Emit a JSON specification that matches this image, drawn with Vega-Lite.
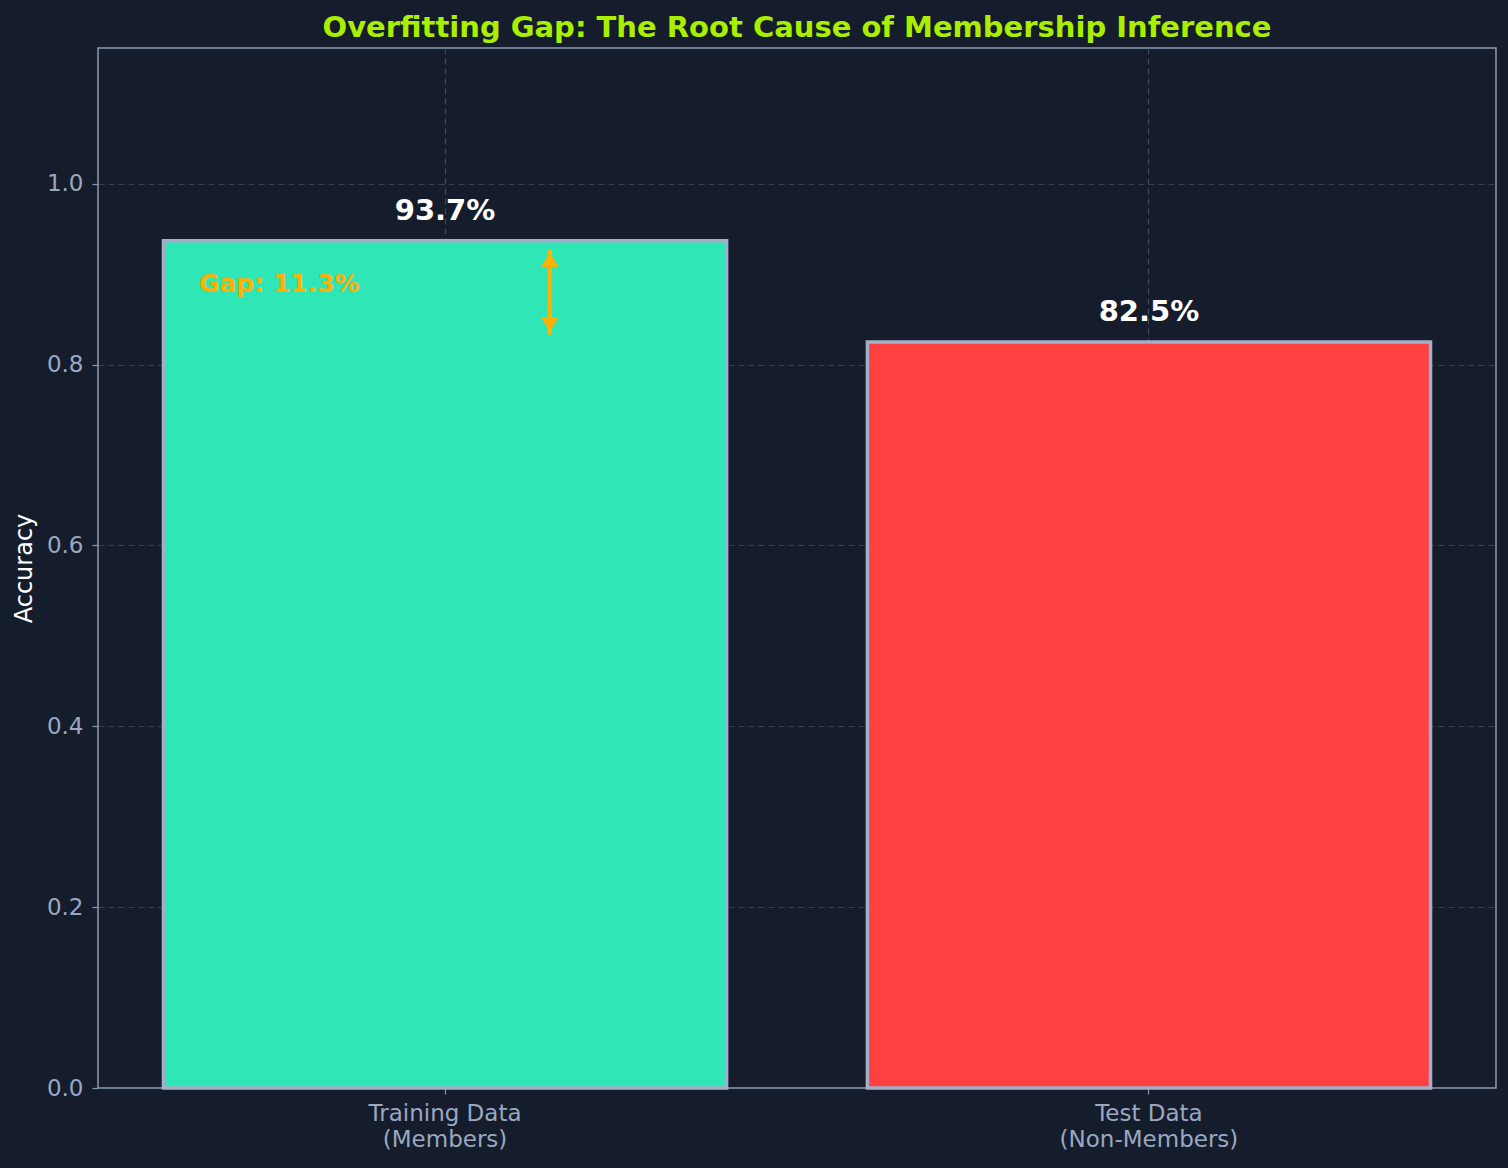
{
  "$schema": "https://vega.github.io/schema/vega-lite/v6.json",
  "width": 1398,
  "height": 1040,
  "autosize": {"type": "none"},
  "padding": {"left": 98, "top": 48, "right": 12, "bottom": 80},
  "background": "#151d2d",
  "title": {
    "text": "Overfitting Gap: The Root Cause of Membership Inference",
    "font": "DejaVu Sans",
    "fontSize": 29,
    "fontWeight": "bold",
    "color": "#aaee00",
    "anchor": "middle",
    "offset": 5
  },
  "config": {
    "view": {"stroke": "#8c9ab2", "strokeWidth": 1.5},
    "font": "DejaVu Sans",
    "axis": {
      "domain": false,
      "gridColor": "#4a5568",
      "gridDash": [6, 4],
      "gridOpacity": 0.8,
      "gridWidth": 1.2,
      "tickColor": "#8c9ab2",
      "tickSize": 6,
      "tickWidth": 1.2,
      "labelColor": "#9aa8c0",
      "labelFont": "DejaVu Sans",
      "labelFontSize": 23,
      "titleFont": "DejaVu Sans",
      "titleFontWeight": "normal",
      "titleColor": "#ffffff",
      "titleFontSize": 24,
      "zindex": 1
    }
  },
  "datasets": {
    "bars": [
      {"category": "Training Data\n(Members)", "accuracy": 0.937, "label": "93.7%", "color": "#2ee6b6"},
      {"category": "Test Data\n(Non-Members)", "accuracy": 0.825, "label": "82.5%", "color": "#ff4040"}
    ],
    "gapText": [
      {"category": "Training Data\n(Members)", "y": 0.889, "text": "Gap: 11.3%"}
    ],
    "arrow": [
      {"category": "Training Data\n(Members)", "top": 0.927, "bottom": 0.833}
    ],
    "heads": [
      {"category": "Training Data\n(Members)", "y": 0.916, "shape": "triangle-up"},
      {"category": "Training Data\n(Members)", "y": 0.844, "shape": "triangle-down"}
    ]
  },
  "encoding": {
    "x": {
      "field": "category",
      "type": "nominal",
      "sort": null,
      "scale": {"domain": ["Training Data\n(Members)", "Test Data\n(Non-Members)"], "paddingInner": 0.2, "paddingOuter": 0.093},
      "axis": {
        "title": null,
        "labelAngle": 0,
        "labelExpr": "split(datum.label, '\\n')",
        "labelLineHeight": 26,
        "labelPadding": 8,
        "grid": true
      }
    }
  },
  "layer": [
    {
      "data": {"name": "bars"},
      "mark": {"type": "bar", "stroke": "#a3afc8", "strokeWidth": 3.5},
      "encoding": {
        "y": {
          "field": "accuracy",
          "type": "quantitative",
          "scale": {"domain": [0, 1.15], "nice": false},
          "axis": {
            "title": "Accuracy",
            "values": [0, 0.2, 0.4, 0.6, 0.8, 1.0],
            "format": ".1f",
            "titlePadding": 10,
            "labelPadding": 9,
            "gridOpacity": {"condition": {"test": "datum.value == 0", "value": 0}, "value": 0.8}
          }
        },
        "color": {"field": "color", "type": "nominal", "scale": null}
      }
    },
    {
      "data": {"name": "bars"},
      "mark": {"type": "text", "color": "#ffffff", "fontSize": 29, "fontWeight": "bold", "baseline": "bottom", "dy": -15, "font": "DejaVu Sans"},
      "encoding": {
        "y": {"field": "accuracy", "type": "quantitative"},
        "text": {"field": "label"}
      }
    },
    {
      "data": {"name": "gapText"},
      "mark": {"type": "text", "color": "#ffb000", "fontSize": 25, "fontWeight": "bold", "align": "left", "baseline": "middle", "font": "DejaVu Sans"},
      "encoding": {
        "x": {"field": "category", "type": "nominal", "bandPosition": 0.063},
        "y": {"field": "y", "type": "quantitative"},
        "text": {"field": "text"}
      }
    },
    {
      "data": {"name": "arrow"},
      "mark": {"type": "rule", "color": "#ffb000", "strokeWidth": 4.5},
      "encoding": {
        "x": {"field": "category", "type": "nominal", "bandPosition": 0.686},
        "y": {"field": "top", "type": "quantitative"},
        "y2": {"field": "bottom"}
      }
    },
    {
      "data": {"name": "heads"},
      "mark": {"type": "point", "filled": true, "color": "#ffb000", "opacity": 1, "size": 300},
      "encoding": {
        "x": {"field": "category", "type": "nominal", "bandPosition": 0.686},
        "y": {"field": "y", "type": "quantitative"},
        "shape": {"field": "shape", "type": "nominal", "scale": null}
      }
    }
  ]
}
